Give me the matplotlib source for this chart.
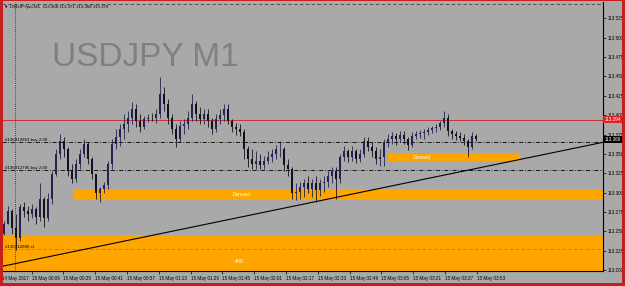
import matplotlib
matplotlib.use("Agg")
import matplotlib.pyplot as plt
from matplotlib.patches import Rectangle
import numpy as np

# USDJPY M1 candles
first_open = 113.247
closes = [113.260, 113.277, 113.254, 113.241, 113.282, 113.277, 113.273, 113.279, 113.269, 113.292,
          113.267, 113.292, 113.324, 113.350, 113.367, 113.356, 113.328, 113.318, 113.337, 113.350,
          113.363, 113.344, 113.324, 113.299, 113.305, 113.310, 113.337, 113.363, 113.372, 113.382,
          113.388, 113.397, 113.408, 113.392, 113.385, 113.395, 113.397, 113.396, 113.401, 113.427,
          113.414, 113.397, 113.382, 113.369, 113.386, 113.388, 113.397, 113.414, 113.401, 113.395,
          113.401, 113.392, 113.382, 113.395, 113.400, 113.408, 113.392, 113.385, 113.382, 113.378,
          113.356, 113.344, 113.337, 113.341, 113.336, 113.341, 113.346, 113.350, 113.356, 113.356,
          113.336, 113.331, 113.299, 113.301, 113.308, 113.312, 113.305, 113.312, 113.303, 113.312,
          113.314, 113.321, 113.328, 113.318, 113.346, 113.354, 113.346, 113.354, 113.344, 113.350,
          113.367, 113.359, 113.354, 113.344, 113.346, 113.365, 113.369, 113.373, 113.369, 113.374,
          113.369, 113.362, 113.373, 113.376, 113.377, 113.378, 113.381, 113.383, 113.385, 113.390,
          113.397, 113.379, 113.376, 113.373, 113.371, 113.367, 113.359, 113.373, 113.369]
highs = [113.264, 113.283, 113.279, 113.273, 113.286, 113.288, 113.283, 113.286, 113.282, 113.312,
         113.295, 113.299, 113.328, 113.356, 113.376, 113.372, 113.359, 113.337, 113.344, 113.356,
         113.369, 113.365, 113.346, 113.324, 113.308, 113.314, 113.341, 113.369, 113.382, 113.388,
         113.401, 113.405, 113.417, 113.414, 113.401, 113.399, 113.401, 113.403, 113.408, 113.449,
         113.436, 113.421, 113.401, 113.388, 113.392, 113.395, 113.405, 113.427, 113.418, 113.410,
         113.408, 113.408, 113.397, 113.401, 113.408, 113.414, 113.415, 113.395, 113.390, 113.388,
         113.382, 113.360, 113.356, 113.354, 113.350, 113.347, 113.354, 113.356, 113.362, 113.367,
         113.359, 113.344, 113.333, 113.312, 113.314, 113.318, 113.321, 113.318, 113.322, 113.318,
         113.321, 113.328, 113.333, 113.333, 113.350, 113.360, 113.356, 113.360, 113.356, 113.356,
         113.372, 113.372, 113.365, 113.359, 113.356, 113.369, 113.376, 113.378, 113.377, 113.379,
         113.379, 113.372, 113.378, 113.379, 113.381, 113.382, 113.385, 113.386, 113.388, 113.392,
         113.405, 113.401, 113.382, 113.379, 113.378, 113.376, 113.369, 113.378, 113.376]
lows = [113.245, 113.259, 113.247, 113.226, 113.238, 113.269, 113.264, 113.267, 113.260, 113.264,
        113.256, 113.264, 113.286, 113.321, 113.344, 113.346, 113.321, 113.312, 113.314, 113.331,
        113.346, 113.337, 113.318, 113.292, 113.288, 113.299, 113.305, 113.331, 113.356, 113.360,
        113.369, 113.378, 113.388, 113.385, 113.378, 113.382, 113.391, 113.392, 113.390, 113.397,
        113.405, 113.388, 113.376, 113.359, 113.365, 113.376, 113.382, 113.392, 113.392, 113.388,
        113.388, 113.385, 113.376, 113.378, 113.388, 113.392, 113.388, 113.378, 113.374, 113.373,
        113.344, 113.333, 113.331, 113.331, 113.331, 113.331, 113.337, 113.340, 113.344, 113.346,
        113.328, 113.322, 113.292, 113.290, 113.292, 113.295, 113.299, 113.295, 113.288, 113.296,
        113.301, 113.308, 113.312, 113.292, 113.312, 113.341, 113.340, 113.341, 113.338, 113.340,
        113.346, 113.354, 113.346, 113.337, 113.335, 113.335, 113.359, 113.363, 113.362, 113.365,
        113.363, 113.355, 113.359, 113.369, 113.371, 113.369, 113.374, 113.377, 113.378, 113.381,
        113.385, 113.373, 113.369, 113.368, 113.367, 113.362, 113.346, 113.356, 113.367]

time_labels = ["14 May 2017", "15 May 00:09", "15 May 00:25", "15 May 00:41", "15 May 00:57",
               "15 May 01:13", "15 May 01:29", "15 May 01:45", "15 May 02:01", "15 May 02:17",
               "15 May 02:33", "15 May 02:49", "15 May 03:05", "15 May 03:21", "15 May 03:37",
               "15 May 03:53"]
price_ticks = [113.525, 113.500, 113.475, 113.450, 113.425, 113.400, 113.375,
               113.350, 113.325, 113.300, 113.275, 113.250, 113.225, 113.200]

title_text = "\u25bc USDJPYpro,M1  113.368 113.371 113.368 113.370"
red_level = 113.394
current_price = 113.369
top_level = 113.544
orders = [("#136912863 buy 2.00", 113.365), ("#136912795 buy 2.00", 113.329)]
sl_label, sl_level = "#136912880 sl", 113.227
demand_big = (113.290, 113.305)
demand_small = (113.341, 113.350)
zone_4hr = (113.190, 113.246)
trend_start = 113.205
trend_end = 113.365

W, H = 625, 286
gray = "#a9a9a9"
orange = "#ffa500"
frame_red = "#c81e1e"
small = ["Liberation Sans", "DejaVu Sans"]

fig = plt.figure(figsize=(W / 100, H / 100), dpi=100, facecolor=gray)
ax = fig.add_axes([2 / W, 15 / H, 601 / W, 269 / H])
ax.set_facecolor(gray)
x0, x1 = -0.5, 149.75
ax.set_xlim(x0, x1)
ax.set_ylim(113.199, 113.546)

# zones
ax.axhspan(zone_4hr[0], zone_4hr[1], color=orange, lw=0, zorder=1)
ax.fill_between([17.5, x1], demand_big[0], demand_big[1], color=orange, lw=0, zorder=1)
ax.fill_between([96, 129], demand_small[0], demand_small[1], color=orange, lw=0, zorder=1)
ax.text(59.5, sum(demand_big) / 2, "Demand", color="white", fontsize=3.4, family=small,
        ha="center", va="center", zorder=3)
ax.text(104.5, sum(demand_small) / 2, "Demand", color="white", fontsize=3.4, family=small,
        ha="center", va="center", zorder=3)
ax.text(59, 113.211, "4HR", color="white", fontsize=3.4, family=small,
        ha="center", va="center", zorder=3)

# watermark and title
ax.text(12, 113.474, "USDJPY M1", color="#808080", fontsize=24,
        family=["Liberation Sans", "DejaVu Sans"], ha="left", va="center", zorder=2)
ax.text(0.0, 113.539, title_text, color="black", fontsize=3.2, family=small,
        ha="left", va="center", zorder=3)

# lines
ax.axhline(top_level, color="#404040", lw=0.6, ls=(0, (4, 3)), zorder=2)
ax.axhline(red_level, color="#c83232", lw=0.7, zorder=2)
for label, level in orders:
    ax.axhline(level, color="black", lw=0.6, ls=(0, (5, 2, 1, 2)), zorder=2)
    ax.text(0.3, level + 0.0008, label, color="black", fontsize=3.2, family=small,
            ha="left", va="bottom", zorder=3)
ax.axhline(sl_level, color="#d2691e", lw=0.6, ls=(0, (4, 3)), zorder=2)
ax.text(0.3, sl_level + 0.0008, sl_label, color="black", fontsize=3.2, family=small,
        ha="left", va="bottom", zorder=3)
ax.axvline(2.75, color="#222222", lw=0.6, ls=(0, (1, 1.5)), zorder=2)
ax.plot([x0, x1], [trend_start, trend_end], color="black", lw=0.8, zorder=4)

# candles
n = len(closes)
idx = np.arange(n)
o = np.array([first_open] + closes[:-1])
c = np.array(closes)
h = np.array(highs)
l = np.array(lows)
cols = np.where(c >= o, "#23234e", "#14101e")
ax.vlines(idx, l, h, colors=cols, lw=0.6, zorder=5)
ax.bar(idx, np.maximum(np.abs(c - o), 0.0006), bottom=np.minimum(o, c), width=0.55,
       color=cols, lw=0, zorder=6)

# axes
for s in ["left", "top"]:
    ax.spines[s].set_visible(False)
for s in ["right", "bottom"]:
    ax.spines[s].set_color("black")
    ax.spines[s].set_linewidth(0.8)
ax.yaxis.tick_right()
ax.set_yticks(price_ticks)
ax.set_yticklabels([f"{p:.3f}" for p in price_ticks], fontsize=3.3, family=small)
ax.tick_params(axis="y", length=2, width=0.5, pad=1.5, colors="black")
xt = [x0] + [6.9 + 7.95 * k for k in range(len(time_labels) - 1)]
ax.set_xticks(xt)
ax.set_xticklabels(time_labels, fontsize=3.3, family=small, ha="left")
ax.tick_params(axis="x", length=2, width=0.5, pad=1.5, colors="black")

# price boxes on the scale
for level, face, txt in [(red_level, "#e02020", f"{red_level:.3f}"),
                         (current_price, "black", f"{current_price:.3f}")]:
    ax.annotate(txt, xy=(1.0, level), xycoords=("axes fraction", "data"),
                xytext=(1, 0), textcoords="offset points", fontsize=3.3, family=small,
                color="white", ha="left", va="center", zorder=10, annotation_clip=False,
                bbox=dict(boxstyle="square,pad=0.25", fc=face, ec="none"))

# red window frame
for r in [(0, 0, 2.5, H), (622, 0, 3, H), (0, 283, W, 3), (0, 0, W, 1)]:
    fig.patches.append(Rectangle((r[0] / W, 1 - (r[1] + r[3]) / H), r[2] / W, r[3] / H,
                                 transform=fig.transFigure, color=frame_red, lw=0))

fig.savefig("out.png", dpi=100, facecolor=gray)
